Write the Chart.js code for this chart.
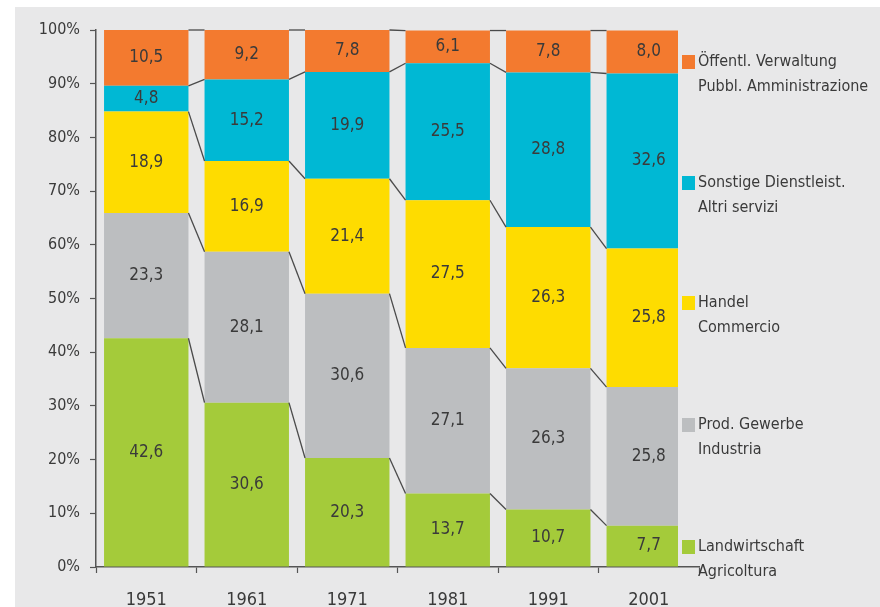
<!DOCTYPE html>
<html>
<head>
<meta charset="UTF-8">
<title>Beschäftigte nach Wirtschaftsbereichen</title>
<script src="https://cdn.jsdelivr.net/npm/chart.js"></script>
<style>
    body { margin: 0; background: #fff; }
    #wrap { width: 880px; height: 607px; }
</style>
</head>
<body>
<div id="wrap"><canvas id="chart" width="880" height="607"></canvas></div>
<script>
    const years = ['1951', '1961', '1971', '1981', '1991', '2001'];
    // Anteile in %, von unten nach oben gestapelt
    const landwirtschaft = [42.6, 30.6, 20.3, 13.7, 10.7, 7.7];
    const prodGewerbe = [23.3, 28.1, 30.6, 27.1, 26.3, 25.8];
    const handel = [18.9, 16.9, 21.4, 27.5, 26.3, 25.8];
    const dienstleist = [4.8, 15.2, 19.9, 25.5, 28.8, 32.6];
    const verwaltung = [10.5, 9.2, 7.8, 6.1, 7.8, 8.0];
    const yTicks = [0, 10, 20, 30, 40, 50, 60, 70, 80, 90, 100];

    const labelsDe = ['Landwirtschaft', 'Prod. Gewerbe', 'Handel', 'Sonstige Dienstleist.', 'Öffentl. Verwaltung'];
    const labelsIt = ['Agricoltura', 'Industria', 'Commercio', 'Altri servizi', 'Pubbl. Amministrazione'];
    const colors = ['#a4cb3a', '#bcbec0', '#fedc00', '#00b8d4', '#f37a2f'];

    const FONT = "'Liberation Sans Narrow', 'DejaVu Sans Condensed', 'Open Sans', sans-serif";
    const TEXT = '#3a3a3a';

    const values = [landwirtschaft, prodGewerbe, handel, dienstleist, verwaltung];

    const bgPlugin = {
        id: 'bg',
        beforeDraw(chart) {
            const ctx = chart.ctx;
            ctx.save();
            ctx.fillStyle = '#ffffff';
            ctx.fillRect(0, 0, chart.width, chart.height);
            ctx.fillStyle = '#e8e8e9';
            ctx.fillRect(15, 7, chart.width - 15, chart.height - 7);
            ctx.restore();
        }
    };

    // Verbindungslinien zwischen den Säulen
    const connectorPlugin = {
        id: 'connectors',
        afterDatasetsDraw(chart) {
            const ctx = chart.ctx;
            const y = chart.scales.y;
            ctx.save();
            ctx.strokeStyle = '#4a4a4a';
            ctx.lineWidth = 1.3;
            for (let i = 0; i < years.length - 1; i++) {
                const a = chart.getDatasetMeta(0).data[i];
                const b = chart.getDatasetMeta(0).data[i + 1];
                const x1 = a.x + a.width / 2;
                const x2 = b.x - b.width / 2;
                let c1 = 0, c2 = 0;
                for (let k = 0; k < values.length; k++) {
                    c1 += values[k][i];
                    c2 += values[k][i + 1];
                    ctx.beginPath();
                    ctx.moveTo(x1, y.getPixelForValue(Math.min(c1, 100)));
                    ctx.lineTo(x2, y.getPixelForValue(Math.min(c2, 100)));
                    ctx.stroke();
                }
            }
            ctx.restore();
        }
    };

    const valueLabelPlugin = {
        id: 'valueLabels',
        afterDatasetsDraw(chart) {
            const ctx = chart.ctx;
            ctx.save();
            ctx.font = '17px ' + FONT;
            ctx.fillStyle = TEXT;
            ctx.textAlign = 'center';
            ctx.textBaseline = 'middle';
            chart.data.datasets.forEach((ds, di) => {
                chart.getDatasetMeta(di).data.forEach((el, i) => {
                    const top = Math.max(el.y, chart.chartArea.top);
                    const cy = (top + el.base) / 2;
                    ctx.fillText(ds.data[i].toFixed(1).replace('.', ','), el.x, cy);
                });
            });
            ctx.restore();
        }
    };

    const legendPlugin = {
        id: 'sideLegend',
        afterDraw(chart) {
            const ctx = chart.ctx;
            const rowY = [547, 425, 303, 183, 62];
            ctx.save();
            ctx.font = '16px ' + FONT;
            ctx.textBaseline = 'middle';
            ctx.textAlign = 'left';
            for (let k = 0; k < labelsDe.length; k++) {
                ctx.fillStyle = colors[k];
                ctx.fillRect(682, rowY[k] - 7, 13, 14);
                ctx.fillStyle = TEXT;
                ctx.fillText(labelsDe[k], 698, rowY[k]);
                ctx.fillText(labelsIt[k], 698, rowY[k] + 25);
            }
            ctx.restore();
        }
    };

    const ctx = document.getElementById('chart').getContext('2d');
    new Chart(ctx, {
        type: 'bar',
        data: {
            labels: years,
            datasets: values.map((v, k) => ({
                label: labelsDe[k],
                data: v,
                backgroundColor: colors[k],
                borderWidth: 0,
                barPercentage: 0.84,
                categoryPercentage: 1,
                clip: { left: false, top: 0, right: -21, bottom: 0 }
            }))
        },
        options: {
            responsive: false,
            animation: false,
            layout: { padding: { top: 30, right: 181, left: 0, bottom: 0 } },
            scales: {
                x: {
                    stacked: true,
                    grid: {
                        drawOnChartArea: false,
                        offset: true,
                        tickLength: 6,
                        tickWidth: 1.2,
                        tickColor: c => (c.index === years.length ? 'rgba(0,0,0,0)' : '#555')
                    },
                    border: { color: '#555', width: 1.5 },
                    ticks: { color: TEXT, font: { family: FONT, size: 18 }, padding: 17 },
                    afterFit(scale) { scale.height = 40; }
                },
                y: {
                    stacked: true,
                    min: 0,
                    max: 100,
                    grid: { drawOnChartArea: false, tickLength: 6, color: '#555', tickWidth: 1.2 },
                    border: { color: '#555', width: 1.5 },
                    afterBuildTicks(scale) { scale.ticks = yTicks.map(v => ({ value: v })); },
                    ticks: {
                        color: TEXT,
                        font: { family: FONT, size: 16 },
                        padding: 10,
                        callback: v => v + '%'
                    },
                    afterFit(scale) { scale.width = 96; }
                }
            },
            plugins: {
                legend: { display: false },
                tooltip: { enabled: false }
            }
        },
        plugins: [bgPlugin, connectorPlugin, valueLabelPlugin, legendPlugin]
    });
</script>
</body>
</html>
